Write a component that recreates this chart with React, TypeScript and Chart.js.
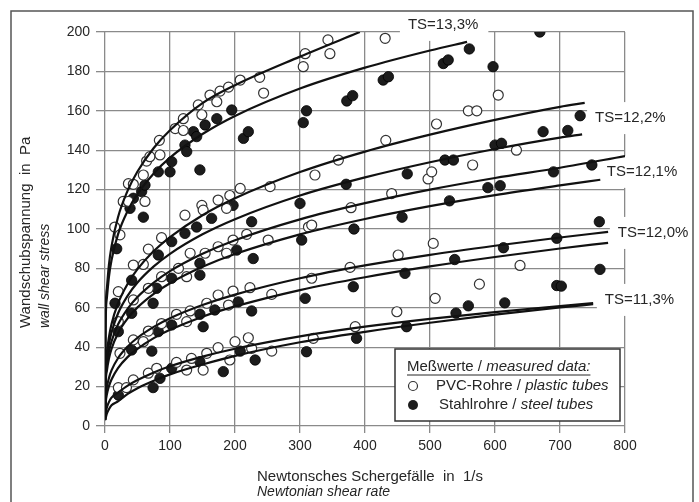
import React, { useEffect, useRef } from "react";
import { Chart, registerables } from "chart.js";

Chart.register(...registerables);

const FONT = '"Liberation Sans", Arial, Helvetica, sans-serif';
const TEXT = "#262626";
const GRID = "#8a8a8a";

// axis ranges / ticks
const xRange = [0, 800];
const xStep = 100;
const yRange = [0, 200];
const yStep = 20;

// measured data: PVC tubes (open circles)
const pvcX = [
  15, 23, 28, 36, 36, 43.6, 59, 61.5, 64, 69, 83.6, 84.6, 108, 120.5, 120.5, 143.5, 149, 161.5, 172, 177, 190, 208, 238, 244, 305, 308, 343, 346, 431,
  20.5, 43.6, 66.7, 87, 113, 125.6, 43.6, 59, 66.7, 87, 131, 154, 174, 187, 197, 218, 251, 123, 149, 151, 174, 187, 192, 208, 254, 313, 318, 323, 359, 378.5, 432, 441, 497, 502.6, 510, 559, 572, 565.6, 605, 633,
  20.5, 23, 43.6, 59, 66.7, 87, 110, 125.6, 131, 156.5, 174, 190, 197, 223, 256.5, 318, 377, 451, 505, 576, 638.5,
  20.5, 33, 43.6, 66.7, 79.5, 110, 125.6, 133, 151, 156.5, 174, 192, 200, 220.5, 225.6, 256.5, 320.5, 385, 449, 508,
];
const pvcY = [
  101, 97, 114, 114, 123, 122.7, 127.4, 114, 134.5, 136.7, 145, 137.6, 151, 150, 156, 163, 158, 168, 164.6, 170, 172, 175.6, 177, 169, 182.4, 189, 196, 189, 196.8,
  68.2, 64, 69.9, 75.8, 80, 75.8, 81.7, 82, 89.8, 95.6, 87.7, 87.7, 91, 87.7, 94.4, 97.3, 94.4, 107, 112, 109.6, 114.7, 110.5, 117, 120.6, 121.5, 101, 102, 127.4, 135, 110.8, 145, 118, 125.4, 129, 153.3, 160, 160, 132.5, 168, 140,
  53, 36.9, 43.7, 42.8, 48.2, 52, 56.7, 53, 58.4, 62.3, 66.5, 61.4, 68.5, 70.2, 66.8, 75, 80.5, 86.8, 92.7, 72, 81.5,
  19.5, 19.5, 23.4, 26.8, 29.3, 32.3, 28.4, 34.3, 28.4, 36.9, 39.8, 33.5, 42.8, 44.8, 39.4, 38, 44.5, 50.4, 58, 64.8,
];

// measured data: steel tubes (filled circles)
const steelX = [
  18, 38.5, 43.6, 56.4, 59, 61.5, 82, 100, 102.6, 123, 125.7, 136, 141, 146, 154, 172, 195, 213, 220.5, 305, 310, 372, 381, 428, 436, 520.5, 528, 560.5, 597, 669,
  82, 102.6, 123, 141, 164, 197, 202.6, 225.6, 228, 300, 302.6, 371, 383, 457, 465, 523, 536, 530, 589, 608, 600, 610, 674, 712, 731, 690, 749,
  15.4, 41, 79.5, 102.6, 146, 146, 74, 41, 20.5, 82, 102.6, 146, 151, 169, 205, 225.6, 41, 72, 308, 382, 461.5, 538, 613, 695, 760.5, 695, 702, 761.5,
  20.5, 74, 84.6, 102.6, 146, 182, 208, 231, 310, 387, 464, 540, 559, 615,
];
const steelY = [
  90, 110.5, 115.6, 119, 106, 122.3, 129, 129, 134.2, 142.6, 139.3, 149.4, 146.9, 130, 152.8, 156, 160.4, 146, 149.4, 154, 160, 165, 167.7, 175.6, 177.3, 184, 185.8, 191.4, 182.4, 200,
  86.8, 93.6, 97.8, 101, 105.4, 112, 89.3, 103.7, 85, 113, 94.4, 122.7, 100, 106, 128, 135, 135, 114.3, 121, 122, 142.6, 143.5, 149.4, 150, 157.5, 129, 132.5,
  62.3, 74, 69.9, 75, 76.6, 82.6, 62.3, 57.2, 47.9, 47.9, 51.3, 56.7, 50.4, 58.9, 63, 58.4, 38.6, 38, 64.8, 70.7, 77.5, 84.5, 90.5, 95.3, 103.7, 71.3, 71, 79.5,
  15.7, 19.5, 24.2, 29.3, 32.6, 27.6, 38, 33.5, 37.7, 44.5, 50.4, 57.3, 61, 62.5,
];

// fitted curves at these shear rates
const fitX = [0, 1, 3, 6, 10, 20, 35, 50, 75, 100, 150, 200, 300, 400, 500, 600, 700];
const curveA = [3, 55.4, 70.3, 81.7, 91.2, 106, 119.6, 129.2, 141.1, 150.1, 163.9, 173, 187.5];
const curveB = [3, 52, 65.4, 75.6, 84.1, 97.3, 109.3, 117.8, 128.2, 136.2, 148.2, 157.4, 171.3, 181.9, 190.6];
const curveC = [3, 27.8, 37.4, 45, 51.7, 62.2, 72.3, 79.6, 88.8, 95.9, 107, 115.6, 128.9, 139.3, 147.9, 155.4, 162];
const curveD = [3, 25.8, 34.5, 41.5, 47.5, 57.1, 66.2, 72.8, 81, 87.4, 97.3, 105, 117, 126.2, 133.9, 140.6, 146.4];
const curveE = [3, 23.4, 31.2, 37.5, 42.9, 51.5, 59.6, 65.5, 72.8, 78.6, 87.4, 94.3, 104.9, 113.1, 120, 125.9, 131.1];
const curveF = [3, 21.1, 28.3, 34.1, 39.1, 47.1, 54.7, 60.2, 67.1, 72.5, 80.8, 87.3, 97.3, 105.1, 111.6, 117.2, 122.1];
const curveG = [3, 14.5, 19.9, 24.3, 28.2, 34.4, 40.4, 44.8, 50.3, 54.7, 61.4, 66.7, 75, 81.5, 86.9, 91.5, 95.7];
const curveH = [3, 11.4, 16.2, 20.1, 23.6, 29.4, 35.1, 39.2, 44.6, 48.8, 55.5, 60.7, 69, 75.5, 81, 85.8, 90.1];
const curveI1 = [3, 6.6, 9.5, 12.1, 14.4, 17, 20.5, 23.3, 27.2, 30.3, 35.2, 39.2, 45.5, 50.4, 54.4, 57.8, 60.9];
const curveI2 = [3, 4.1, 6.4, 8.5, 10.5, 12.5, 16.3, 19.2, 23, 26.2, 31.2, 35.6, 42.5, 47.8, 52.4, 56.5, 60.2];
const curveValues = [curveA, curveB, curveC, curveD, curveE, curveF, curveG, curveH, curveI1, curveI2];
const curveEndX = [392, 557, 738, 734, 800, 762, 774, 774, 751, 751];
const curveEndY = [200, 195, 164, 148, 137, 125, 98.5, 93, 62.4, 61.8];

// curve labels
const tsLabels = ["TS=13,3%", "TS=12,2%", "TS=12,1%", "TS=12,0%", "TS=11,3%"];
const tsLabelX = [466, 754, 772, 789, 769];
const tsLabelY = [203.6, 156.3, 129, 98, 64];

const PVC_STROKE = "#333333";
const STEEL_FILL = "#1c1c1c";

type Run = [string, boolean];

function drawRuns(ctx: CanvasRenderingContext2D, x: number, y: number, runs: Run[], size: number) {
  let cx = x;
  for (const [t, it] of runs) {
    ctx.font = `${it ? "italic " : ""}${size}px ${FONT}`;
    ctx.fillText(t, cx, y);
    cx += ctx.measureText(t).width;
  }
  return cx;
}

const decor = {
  id: "decor",
  beforeDatasetsDraw(chart: any) {
    const { ctx, scales } = chart;
    const xs = scales.x;
    const ys = scales.y;
    ctx.save();
    ctx.font = `15px ${FONT}`;
    ctx.textBaseline = "middle";
    ctx.textAlign = "left";
    tsLabels.forEach((t, i) => {
      const px = xs.getPixelForValue(tsLabelX[i]);
      const py = ys.getPixelForValue(tsLabelY[i]);
      const w = ctx.measureText(t).width;
      ctx.fillStyle = "#ffffff";
      ctx.fillRect(px - 8, py - 16, w + 18, 32);
      ctx.fillStyle = TEXT;
      ctx.fillText(t, px, py);
    });
    ctx.restore();
  },
  afterDraw(chart: any) {
    const { ctx, chartArea } = chart;
    ctx.save();
    // outer frame
    ctx.strokeStyle = "#555";
    ctx.lineWidth = 1.5;
    ctx.beginPath();
    ctx.moveTo(11, 510);
    ctx.lineTo(11, 11);
    ctx.lineTo(693, 11);
    ctx.lineTo(693, 510);
    ctx.stroke();

    ctx.fillStyle = TEXT;
    ctx.textBaseline = "middle";
    ctx.textAlign = "left";
    // y title
    ctx.save();
    ctx.translate(26, 328);
    ctx.rotate(-Math.PI / 2);
    drawRuns(ctx, 0, 0, [["Wandschubspannung  in  Pa", false]], 15);
    ctx.restore();
    ctx.save();
    ctx.translate(45, 328);
    ctx.rotate(-Math.PI / 2);
    drawRuns(ctx, 0, 0, [["wall shear stress", true]], 14);
    ctx.restore();
    // x title
    drawRuns(ctx, 257, 477, [["Newtonsches Schergefälle  in  1/s", false]], 15);
    drawRuns(ctx, 257, 492, [["Newtonian shear rate", true]], 14);

    // legend
    const lw = 225;
    const lh = 72;
    const lx = chartArea.right - 5 - lw;
    const ly = chartArea.bottom - 5 - lh;
    ctx.fillStyle = "#fff";
    ctx.fillRect(lx, ly, lw, lh);
    ctx.strokeStyle = "#333";
    ctx.lineWidth = 1.5;
    ctx.strokeRect(lx, ly, lw, lh);
    ctx.fillStyle = TEXT;
    const end = drawRuns(ctx, lx + 12, ly + 18, [["Meßwerte / ", false], ["measured data:", true]], 15);
    ctx.strokeStyle = TEXT;
    ctx.lineWidth = 1;
    ctx.beginPath();
    ctx.moveTo(lx + 12, ly + 26);
    ctx.lineTo(end, ly + 26);
    ctx.stroke();
    // markers (same styles as datasets)
    ctx.beginPath();
    ctx.arc(lx + 18, ly + 37, 4.5, 0, Math.PI * 2);
    ctx.fillStyle = "#fff";
    ctx.fill();
    ctx.strokeStyle = PVC_STROKE;
    ctx.lineWidth = 1.2;
    ctx.stroke();
    ctx.beginPath();
    ctx.arc(lx + 18, ly + 56, 5, 0, Math.PI * 2);
    ctx.fillStyle = STEEL_FILL;
    ctx.fill();
    ctx.fillStyle = TEXT;
    drawRuns(ctx, lx + 41, ly + 37, [["PVC-Rohre / ", false], ["plastic tubes", true]], 15);
    drawRuns(ctx, lx + 44, ly + 56, [["Stahlrohre / ", false], ["steel tubes", true]], 15);
    ctx.restore();
  },
};

export default function App() {
  const ref = useRef<HTMLCanvasElement | null>(null);

  useEffect(() => {
    if (!ref.current) return;
    const curveSets = curveValues.map((vals, ci) => ({
      label: "fit" + ci,
      data: [
        ...vals.map((v, i) => ({ x: fitX[i], y: v })),
        { x: curveEndX[ci], y: curveEndY[ci] },
      ],
      showLine: true,
      borderColor: "#111",
      borderWidth: 2.2,
      pointRadius: 0,
      cubicInterpolationMode: "monotone" as const,
      fill: false,
    }));
    const chart = new Chart(ref.current, {
      type: "scatter",
      data: {
        datasets: [
          ...curveSets,
          {
            label: "PVC",
            data: pvcX.map((x, i) => ({ x, y: pvcY[i] })),
            pointRadius: 5,
            pointBorderWidth: 1.2,
            pointBackgroundColor: "#ffffff",
            pointBorderColor: PVC_STROKE,
            showLine: false,
          },
          {
            label: "Stahl",
            data: steelX.map((x, i) => ({ x, y: steelY[i] })),
            pointRadius: 5.2,
            pointBorderWidth: 0.8,
            pointBackgroundColor: STEEL_FILL,
            pointBorderColor: "#000",
            showLine: false,
          },
        ] as any,
      },
      options: {
        animation: false,
        responsive: false,
        events: [],
        layout: { padding: { top: 32, right: 74, left: 0, bottom: 0 } },
        plugins: { legend: { display: false }, tooltip: { enabled: false } },
        scales: {
          x: {
            type: "linear",
            min: xRange[0],
            max: xRange[1],
            afterFit: (s: any) => {
              s.height = 76;
            },
            ticks: { stepSize: xStep, color: TEXT, font: { family: FONT, size: 14 }, padding: 5 },
            grid: { color: GRID, lineWidth: 1.3, tickLength: 7, tickColor: GRID, tickWidth: 1.3 },
            border: { display: false },
          },
          y: {
            type: "linear",
            min: yRange[0],
            max: yRange[1],
            afterFit: (s: any) => {
              s.width = 105;
            },
            ticks: { stepSize: yStep, color: TEXT, font: { family: FONT, size: 14 }, padding: 6 },
            grid: { color: GRID, lineWidth: 1.3, tickLength: 9, tickColor: GRID, tickWidth: 1.3 },
            border: { display: false },
          },
        },
      },
      plugins: [decor],
    });
    return () => chart.destroy();
  }, []);

  return (
    <div style={{ position: "fixed", left: 0, top: 0, width: 699, height: 502, background: "#fff" }}>
      <canvas ref={ref} width={699} height={502} style={{ width: 699, height: 502, display: "block" }} />
    </div>
  );
}
